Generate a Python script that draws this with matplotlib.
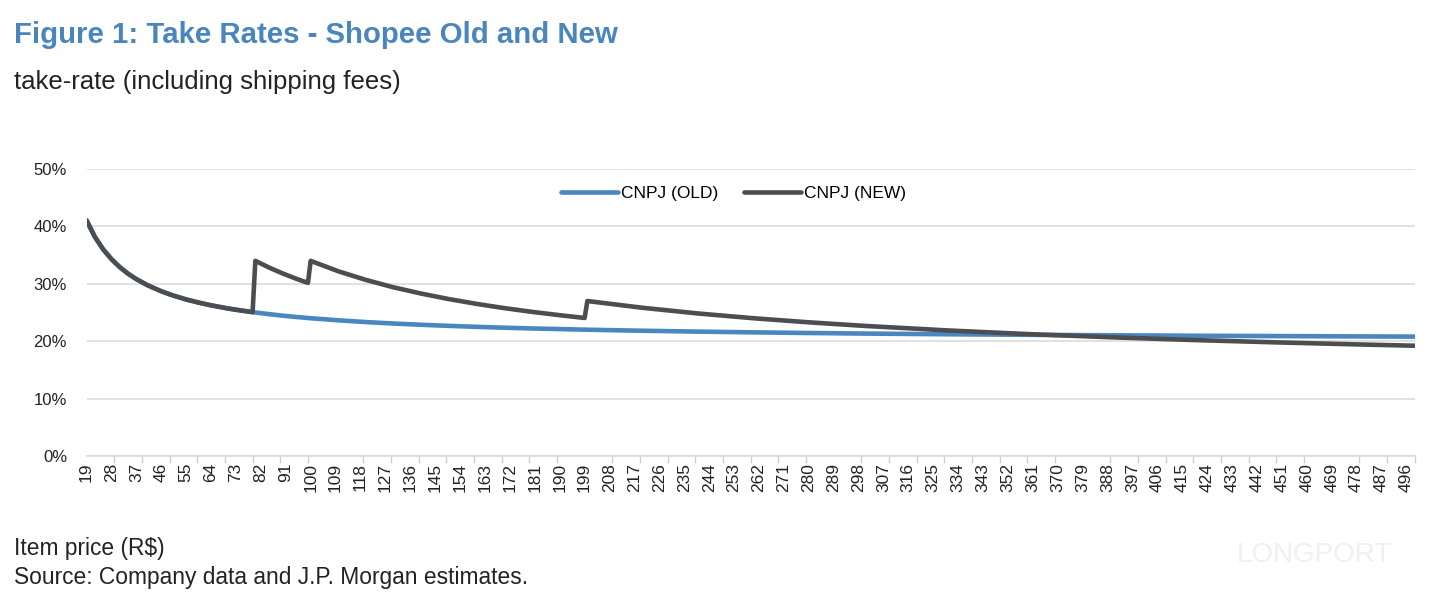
import numpy as np
import matplotlib.pyplot as plt
from matplotlib.ticker import PercentFormatter

plt.rcParams['font.family'] = ['Liberation Sans', 'DejaVu Sans']

# item price (R$) and take rates (%)
price = [19, 22, 25, 28, 31, 34, 37, 41, 46, 50, 55, 60, 64, 70, 73, 79,
         80, 85, 90, 95, 99, 100, 110, 120, 130, 140, 150, 160, 170, 180, 190, 199,
         200, 220, 240, 260, 280, 300, 330, 360, 390, 420, 450, 480, 499]

old_rate = [41.05, 38.18, 36.00, 34.29, 32.90, 31.76, 30.81, 29.76, 28.70, 28.00, 27.27,
            26.67, 26.25, 25.71, 25.48, 25.06,
            25.00, 24.71, 24.44, 24.21, 24.04, 24.00, 23.64, 23.33, 23.08, 22.86, 22.67,
            22.50, 22.35, 22.22, 22.11, 22.01,
            22.00, 21.82, 21.67, 21.54, 21.43, 21.33, 21.21, 21.11, 21.03, 20.95, 20.89,
            20.83, 20.80]

new_rate = [41.05, 38.18, 36.00, 34.29, 32.90, 31.76, 30.81, 29.76, 28.70, 28.00, 27.27,
            26.67, 26.25, 25.71, 25.48, 25.06,
            34.00, 32.82, 31.78, 30.84, 30.16, 34.00, 32.18, 30.67, 29.38, 28.29, 27.33,
            26.50, 25.76, 25.11, 24.53, 24.05,
            27.00, 25.82, 24.83, 24.00, 23.29, 22.67, 21.88, 21.22, 20.67, 20.19, 19.78,
            19.42, 19.21]

label_ticks = list(range(19, 497, 9))
mark_ticks = list(range(19, 500, 10))

BLUE = '#4a86c0'
GREY = '#4b4d51'
TITLE = '#4a86be'
TXT = '#222222'

fig = plt.figure(figsize=(14.38, 5.97), dpi=100)
ax = fig.add_axes([0.0602, 0.2362, 0.9236, 0.4807])

ax.plot(price, old_rate, color=BLUE, lw=3.3, label='CNPJ (OLD)', solid_capstyle='round')
ax.plot(price, new_rate, color=GREY, lw=3.3, label='CNPJ (NEW)', solid_capstyle='round')

ax.set_xlim(19, 499)
ax.set_ylim(0, 50)
ax.set_yticks([0, 10, 20, 30, 40, 50])
ax.yaxis.set_major_formatter(PercentFormatter(decimals=0))
ax.grid(axis='y', color='#dcdcdc', lw=1.2)
ax.set_axisbelow(True)

ax.set_xticks(label_ticks)
ax.set_xticklabels([str(t) for t in label_ticks], rotation=90, fontsize=12.5, color=TXT)
ax.set_xticks(mark_ticks, minor=True)
ax.tick_params(axis='x', which='major', length=0, pad=5)
ax.tick_params(axis='x', which='minor', length=5, color='#cfcfcf', width=1)
ax.tick_params(axis='y', length=0, labelsize=12, labelcolor=TXT, pad=14)

for s in ['top', 'right', 'left']:
    ax.spines[s].set_visible(False)
ax.spines['bottom'].set_color('#d9d9d9')
ax.spines['bottom'].set_linewidth(1.2)

ax.legend(loc='center', bbox_to_anchor=(0.487, 0.916), ncol=2, frameon=False,
          fontsize=12.5, handlelength=3.3, columnspacing=1.5, handletextpad=0.15)

fig.text(0.0097, 0.942, 'Figure 1: Take Rates - Shopee Old and New', fontsize=21.2,
         fontweight='bold', color=TITLE, va='center')
fig.text(0.0097, 0.862, 'take-rate (including shipping fees)', fontsize=18.5,
         color=TXT, va='center')
fig.text(0.0097, 0.082, 'Item price (R\\$)', fontsize=16.4, color=TXT, va='center')
fig.text(0.0097, 0.033, 'Source: Company data and J.P. Morgan estimates.', fontsize=16.4,
         color=TXT, va='center')
fig.text(0.86, 0.07, 'LONGPORT', fontsize=20, color='#f0f0f0', va='center')

fig.savefig('out.png', dpi=100)
